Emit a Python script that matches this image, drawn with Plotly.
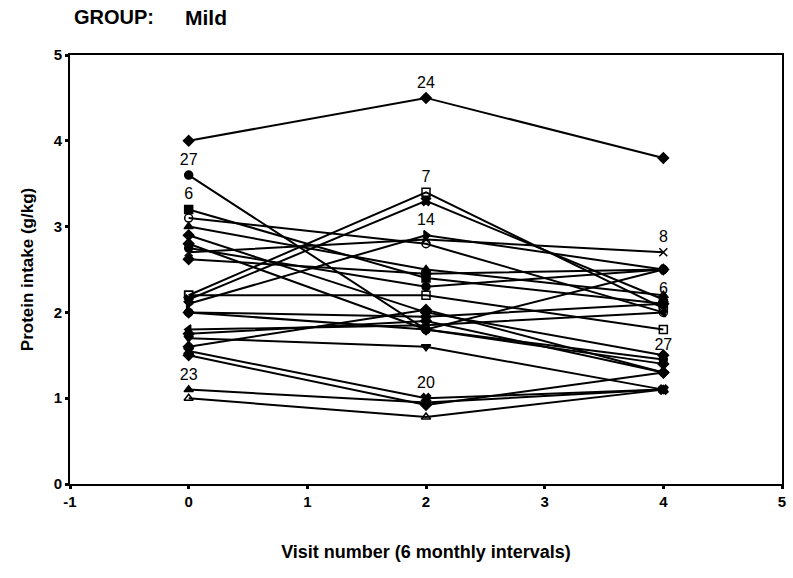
import plotly.graph_objects as go

visits = [0, 2, 4]
x_tick_vals = [-1, 0, 1, 2, 3, 4, 5]
x_tick_text = ["-1", "0", "1", "2", "3", "4", "5"]
y_tick_vals = [0, 1, 2, 3, 4, 5]

# Protein intake (g/kg) per subject at visits 0, 2, 4
subj_24 = [4.0, 4.5, 3.8]
subj_27 = [3.6, 1.8, 1.45]
subj_6 = [3.2, 2.4, 2.1]
subj_a = [3.1, 2.8, 2.0]
subj_b = [3.0, 2.5, 2.2]
subj_c = [2.9, 2.0, 1.5]
subj_d = [2.8, 1.8, 1.4]
subj_e = [2.75, 2.3, 2.5]
subj_8 = [2.7, 2.85, 2.7]
subj_f = [2.62, 2.45, 2.5]
subj_7 = [2.2, 3.4, 2.05]
subj_g = [2.15, 3.3, 2.15]
subj_14 = [2.1, 2.9, 2.5]
subj_h = [2.2, 2.2, 1.8]
subj_i = [2.0, 1.95, 2.1]
subj_j = [2.0, 1.8, 2.5]
subj_k = [1.8, 1.85, 2.0]
subj_l = [1.75, 1.9, 1.3]
subj_m = [1.7, 1.6, 1.1]
subj_n = [1.6, 2.03, 1.3]
subj_20 = [1.55, 1.0, 1.1]
subj_o = [1.5, 0.92, 1.3]
subj_23 = [1.1, 0.95, 1.1]
subj_p = [1.0, 0.78, 1.1]

subjects = [
    ("24", subj_24, "diamond", ["", "24", ""]),
    ("27", subj_27, "circle", ["27", "", "27"]),
    ("6", subj_6, "square", ["6", "", "6"]),
    ("a", subj_a, "circle-open", ["", "", ""]),
    ("b", subj_b, "triangle-up", ["", "", ""]),
    ("c", subj_c, "diamond", ["", "", ""]),
    ("d", subj_d, "diamond", ["", "", ""]),
    ("e", subj_e, "circle", ["", "", ""]),
    ("8", subj_8, "x-thin-open", ["", "", "8"]),
    ("f", subj_f, "diamond", ["", "", ""]),
    ("7", subj_7, "square-open", ["", "7", ""]),
    ("g", subj_g, "x", ["", "", ""]),
    ("14", subj_14, "triangle-right", ["", "14", ""]),
    ("h", subj_h, "square-open", ["", "", ""]),
    ("i", subj_i, "diamond", ["", "", ""]),
    ("j", subj_j, "circle", ["", "", ""]),
    ("k", subj_k, "triangle-left", ["", "", ""]),
    ("l", subj_l, "diamond", ["", "", ""]),
    ("m", subj_m, "triangle-down", ["", "", ""]),
    ("n", subj_n, "diamond", ["", "", ""]),
    ("20", subj_20, "x", ["", "20", ""]),
    ("o", subj_o, "diamond", ["", "", ""]),
    ("23", subj_23, "triangle-up", ["23", "", ""]),
    ("p", subj_p, "triangle-up-open", ["", "", ""]),
]

FONT = "Liberation Sans, Arial, sans-serif"

fig = go.Figure()
for name, vals, sym, labels in subjects:
    fig.add_trace(go.Scatter(
        x=visits, y=vals, name=name,
        mode="lines+markers+text",
        text=labels, textposition="top center",
        textfont=dict(family=FONT, size=16, color="black"),
        line=dict(color="black", width=2),
        marker=dict(symbol=sym, size=8, color="black",
                    line=dict(color="black", width=1.5)),
        showlegend=False,
    ))

title_y = 1 + (55 - 17) / 429
fig.add_annotation(text="<b>GROUP:</b>", xref="paper", yref="paper",
                   x=(72 - 70) / 717, y=title_y,
                   xanchor="left", yanchor="middle", showarrow=False,
                   font=dict(family=FONT, size=20, color="black"))
fig.add_annotation(text="<b>Mild</b>", xref="paper", yref="paper",
                   x=(184 - 70) / 717, y=title_y,
                   xanchor="left", yanchor="middle", showarrow=False,
                   font=dict(family=FONT, size=21, color="black"))

axis_common = dict(
    showline=True, linecolor="black", linewidth=2, mirror=True,
    showgrid=False, zeroline=False,
    ticks="outside", ticklen=3, tickwidth=3, tickcolor="black",
    tickfont=dict(family=FONT, size=15, color="black", weight="bold"),
)

fig.update_xaxes(range=[-1, 5], tickvals=x_tick_vals, ticktext=x_tick_text,
                 title=dict(text="Visit number (6 monthly intervals)",
                            font=dict(family=FONT, size=18, color="black",
                                      weight="bold"),
                            standoff=36),
                 **axis_common)
fig.update_yaxes(range=[0, 5], tickvals=y_tick_vals,
                 title=dict(text="Protein intake (g/kg)",
                            font=dict(family=FONT, size=17, color="black",
                                      weight="bold"),
                            standoff=16),
                 **axis_common)

fig.update_layout(
    width=793, height=578,
    margin=dict(l=70, r=7, t=55, b=94),
    plot_bgcolor="white", paper_bgcolor="white",
)

fig.write_html("out.html")
